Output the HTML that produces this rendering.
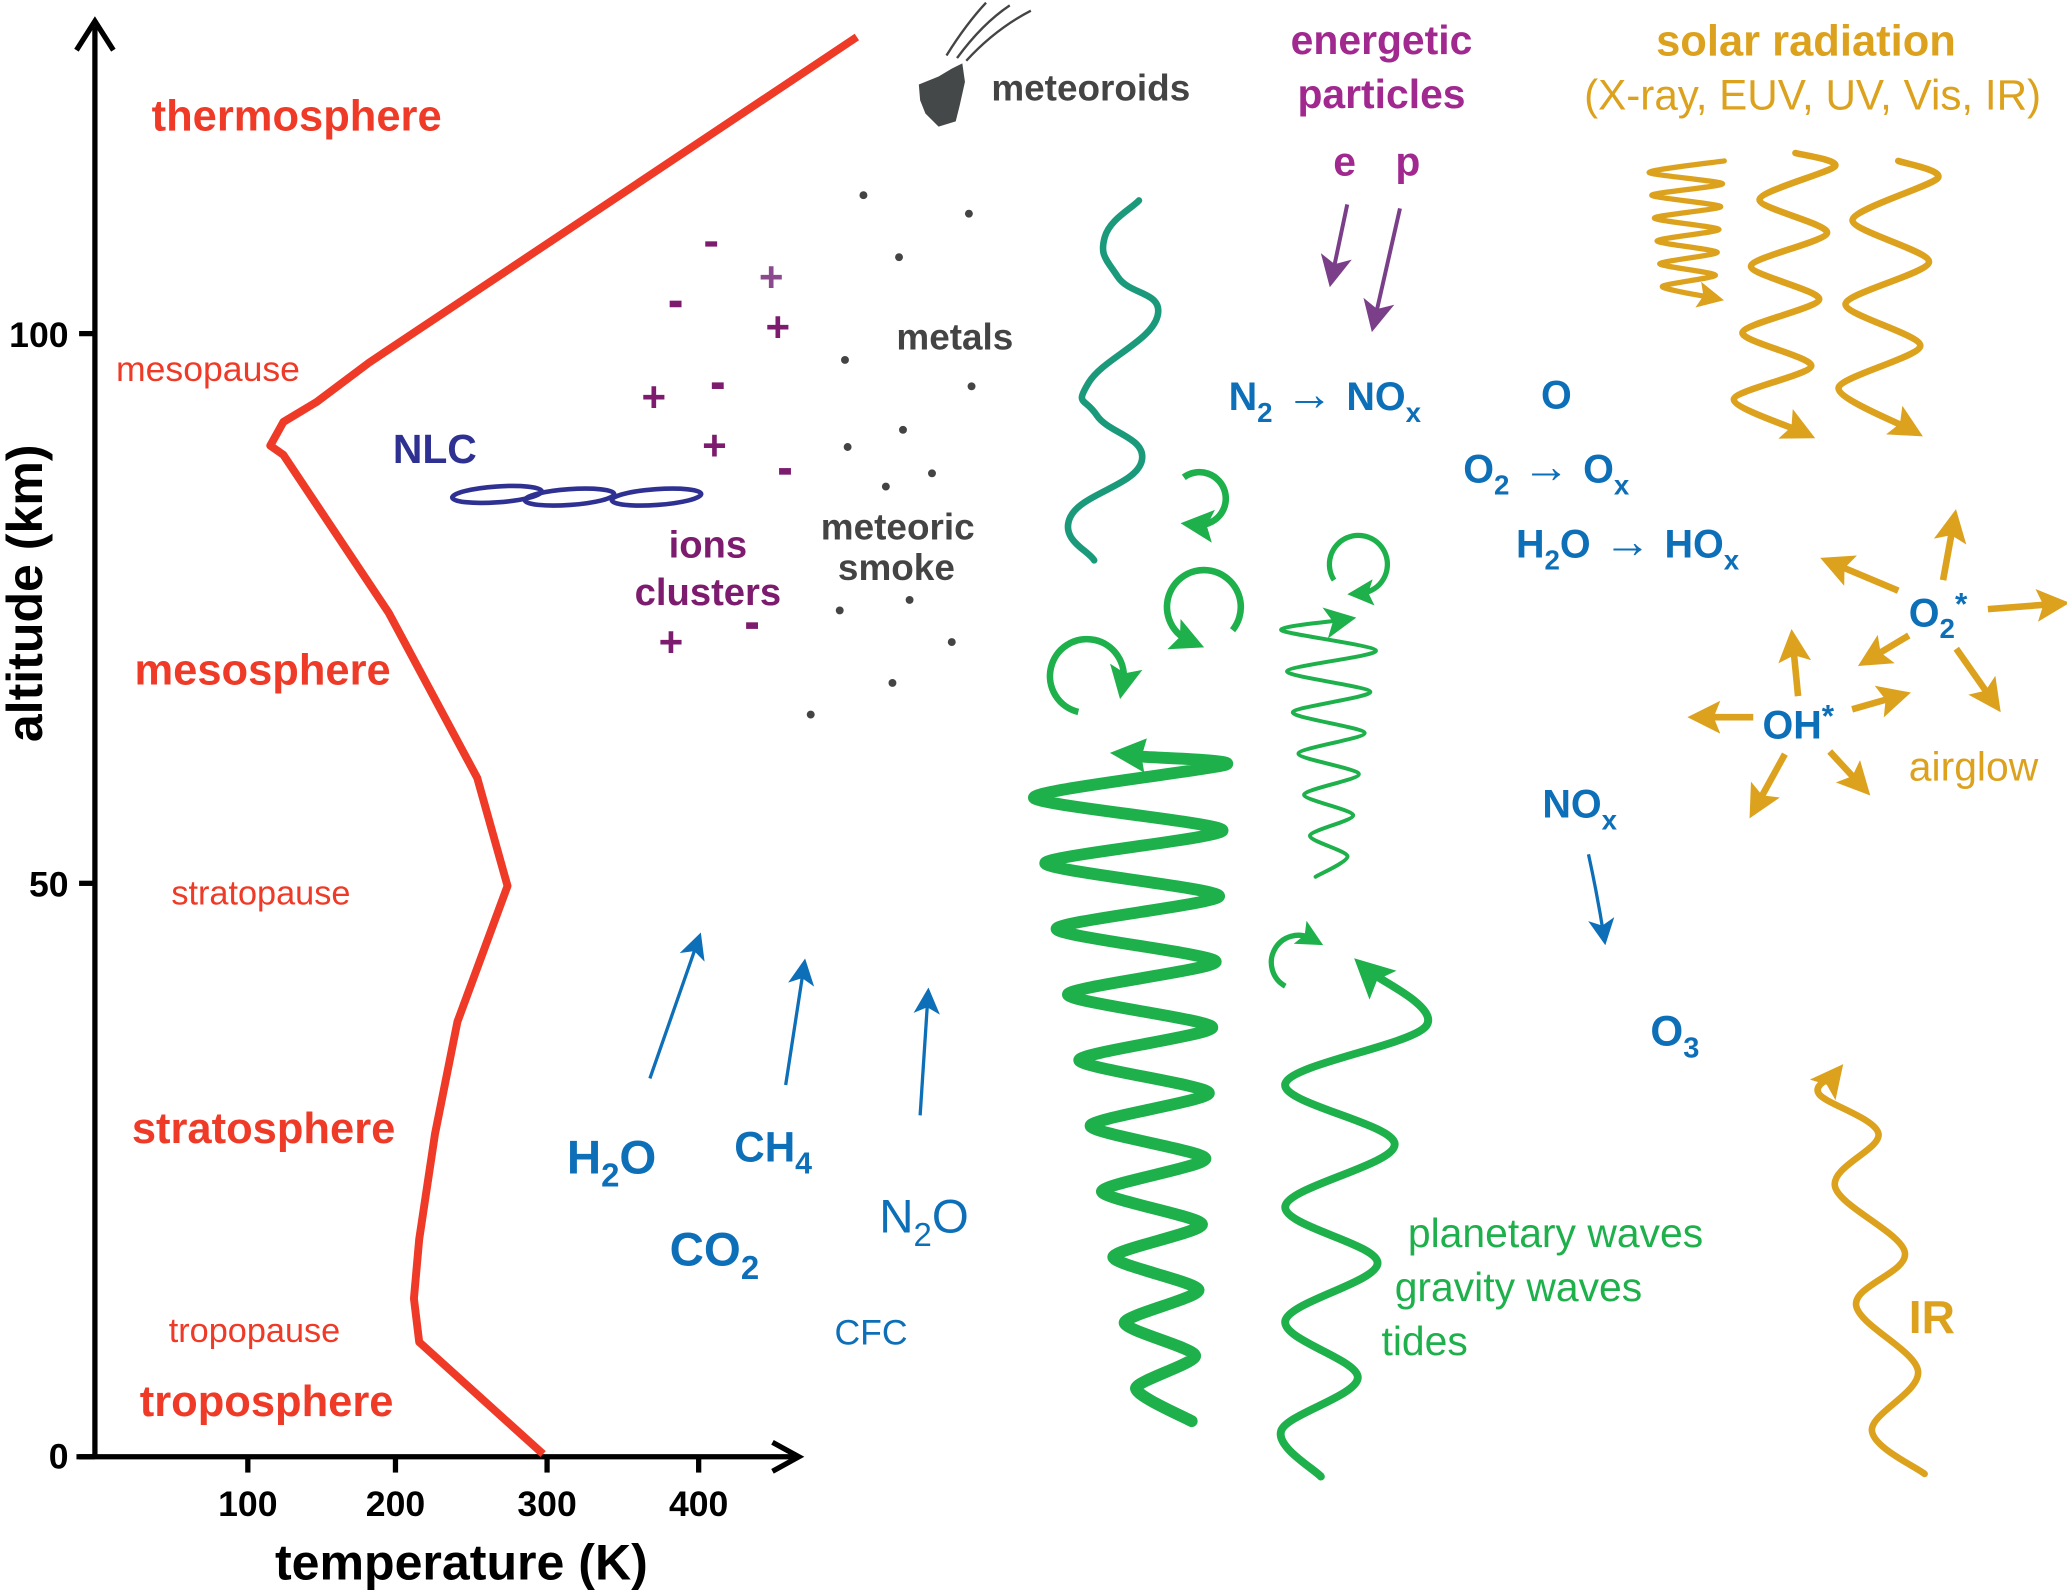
<!DOCTYPE html>
<html><head><meta charset="utf-8"><style>
html,body{margin:0;padding:0;background:#fff;}
svg{display:block;}
text{font-family:"Liberation Sans",Arial,sans-serif;}
</style></head><body>
<svg id="s" width="2067" height="1590" viewBox="0 0 1568 1206" xmlns="http://www.w3.org/2000/svg">
<defs>
<marker id="ab" markerWidth="8" markerHeight="8" refX="6" refY="4" orient="auto" markerUnits="strokeWidth"><path d="M0,0 L8,4 L0,8 L2,4Z" fill="#0d6fb8"/></marker>
<marker id="ap" markerWidth="8" markerHeight="8" refX="6" refY="4" orient="auto" markerUnits="strokeWidth"><path d="M0,0 L8,4 L0,8 L2,4Z" fill="#7b3f8a"/></marker>
<marker id="ao" markerWidth="5" markerHeight="5" refX="3" refY="2.5" orient="auto" markerUnits="strokeWidth"><path d="M0,0 L5,2.5 L0,5 L1,2.5Z" fill="#dca21e"/></marker>
<marker id="ag" markerWidth="5" markerHeight="5" refX="3" refY="2.5" orient="auto" markerUnits="strokeWidth"><path d="M0,0 L5,2.5 L0,5 L1,2.5Z" fill="#1db04b"/></marker>
<marker id="ag2" markerWidth="5" markerHeight="5" refX="2.5" refY="2.5" orient="auto" markerUnits="strokeWidth"><path d="M0,0 L5,2.5 L0,5 L1,2.5Z" fill="#1db04b"/></marker>
<marker id="agt" markerWidth="8" markerHeight="8" refX="5" refY="4" orient="auto" markerUnits="strokeWidth"><path d="M0,0 L8,4 L0,8 L2,4Z" fill="#1db04b"/></marker>
</defs>

<!-- axes -->
<g stroke="#000" stroke-width="4" fill="none">
<line x1="72" y1="1105" x2="72" y2="20"/>
<path d="M58,38 L72,16 L86,38"/>
<line x1="58" y1="1105" x2="602" y2="1105"/>
<path d="M586,1094 L606,1105 L586,1116"/>
<line x1="60" y1="253" x2="72" y2="253"/>
<line x1="60" y1="670" x2="72" y2="670"/>
<line x1="60" y1="1105" x2="72" y2="1105"/>
<line x1="188" y1="1105" x2="188" y2="1117"/>
<line x1="300" y1="1105" x2="300" y2="1117"/>
<line x1="415" y1="1105" x2="415" y2="1117"/>
<line x1="530" y1="1105" x2="530" y2="1117"/>
</g>
<g font-weight="bold" font-size="27" fill="#000">
<text x="52" y="263" text-anchor="end">100</text>
<text x="52" y="680" text-anchor="end">50</text>
<text x="52" y="1114" text-anchor="end">0</text>
<text x="188" y="1150" text-anchor="middle">100</text>
<text x="300" y="1150" text-anchor="middle">200</text>
<text x="415" y="1150" text-anchor="middle">300</text>
<text x="530" y="1150" text-anchor="middle">400</text>
<text x="350" y="1198" text-anchor="middle" font-size="38">temperature (K)</text>
<text transform="translate(32,450) rotate(-90)" text-anchor="middle" font-size="38">altitude (km)</text>
</g>

<!-- temperature curve -->
<polyline fill="none" stroke="#ee3a26" stroke-width="6" stroke-linejoin="round" points="412,1103 318,1018 314,985 318,940 330,860 347,775 385,672 362,590 295,465 215,345 205,338 215,320 240,305 280,275 650,28"/>

<g fill="#ee3a26" font-weight="bold" font-size="33">
<text x="115" y="99">thermosphere</text>
<text x="102" y="519">mesosphere</text>
<text x="100" y="867">stratosphere</text>
<text x="106" y="1074">troposphere</text>
</g>
<g fill="#ee3a26">
<text x="88" y="289" font-size="27">mesopause</text>
<text x="130" y="686" font-size="26">stratopause</text>
<text x="128" y="1018" font-size="26">tropopause</text>
</g>

<!-- NLC -->
<text x="298" y="351" font-weight="bold" font-size="31" fill="#2e3192">NLC</text>
<g fill="none" stroke="#2e3192" stroke-width="3.5">
<ellipse cx="377" cy="375" rx="34" ry="6" transform="rotate(-4 377 375)"/>
<ellipse cx="432" cy="377" rx="34" ry="6" transform="rotate(-4 432 377)"/>
<ellipse cx="498" cy="377" rx="34" ry="6" transform="rotate(-4 498 377)"/>
</g>

<!-- ions -->
<g fill="#7d1b6e" font-weight="bold">
<text x="537" y="423" text-anchor="middle" font-size="29">ions</text>
<text x="537" y="459" text-anchor="middle" font-size="29">clusters</text>
<g font-size="32">
<text x="585" y="221" text-anchor="middle" fill="#8c4a8e">+</text>
<text x="590" y="259" text-anchor="middle">+</text>
<text x="496" y="312" text-anchor="middle">+</text>
<text x="542" y="349" text-anchor="middle">+</text>
<text x="509" y="498" text-anchor="middle">+</text>
</g>
<g>
<rect x="535" y="183" width="9" height="4"/>
<rect x="508" y="228" width="9" height="5"/>
<rect x="540" y="290" width="9" height="5"/>
<rect x="591" y="355" width="9" height="5"/>
<rect x="566" y="472" width="9" height="5"/>
</g>
</g>

<!-- metals & smoke -->
<g fill="#444">
<text x="680" y="265" font-weight="bold" font-size="28">metals</text>
<text x="681" y="409" text-anchor="middle" font-weight="bold" font-size="28">meteoric</text>
<text x="680" y="440" text-anchor="middle" font-weight="bold" font-size="28">smoke</text>
<circle cx="655" cy="148" r="3"/><circle cx="735" cy="162" r="3"/><circle cx="682" cy="195" r="3"/>
<circle cx="641" cy="273" r="3"/><circle cx="737" cy="293" r="3"/><circle cx="685" cy="326" r="3"/>
<circle cx="643" cy="339" r="3"/><circle cx="707" cy="359" r="3"/><circle cx="672" cy="369" r="3"/>
<circle cx="637" cy="463" r="3"/><circle cx="690" cy="455" r="3"/><circle cx="722" cy="487" r="3"/>
<circle cx="677" cy="518" r="3"/><circle cx="615" cy="542" r="3"/>
<path d="M697,64 L712,58 L722,52 L730,48 L732,62 L728,80 L725,92 L712,96 L702,86 L698,76Z" fill="#454849"/>
<g stroke="#444" stroke-width="1.8" fill="none">
<path d="M718,42 Q733,18 748,2"/><path d="M726,44 Q745,18 766,4"/><path d="M733,46 Q755,22 782,8"/>
</g>
<text x="752" y="76" font-weight="bold" font-size="28">meteoroids</text>
</g>

<!-- energetic particles -->
<g fill="#a0288f" font-weight="bold" font-size="31">
<text x="1048" y="41" text-anchor="middle">energetic</text>
<text x="1048" y="82" text-anchor="middle">particles</text>
<text x="1020" y="133" text-anchor="middle">e</text>
<text x="1068" y="133" text-anchor="middle">p</text>
</g>
<g stroke="#7b3f8a" stroke-width="3" fill="none">
<line x1="1022" y1="155" x2="1010" y2="212" marker-end="url(#ap)"/>
<line x1="1062" y1="158" x2="1042" y2="246" marker-end="url(#ap)"/>
</g>

<!-- solar -->
<g fill="#dca21e">
<text x="1370" y="42" text-anchor="middle" font-weight="bold" font-size="33">solar radiation</text>
<text x="1375" y="83" text-anchor="middle" font-size="32">(X-ray, EUV, UV, Vis, IR)</text>
<text x="1448" y="592" font-size="31">airglow</text>
<text x="1448" y="1011" font-weight="bold" font-size="35">IR</text>
</g>

<!-- blue chemistry -->
<g fill="#0d6fb8" font-weight="bold" font-size="30">
<text x="932" y="311">N<tspan font-size="21" dy="9">2</tspan><tspan dy="-9" font-weight="normal" font-size="36"> → </tspan>NO<tspan font-size="21" dy="9">x</tspan></text>
<text x="1169" y="310">O</text>
<text x="1110" y="366">O<tspan font-size="21" dy="9">2</tspan><tspan dy="-9" font-weight="normal" font-size="36"> → </tspan>O<tspan font-size="21" dy="9">x</tspan></text>
<text x="1150" y="423">H<tspan font-size="21" dy="9">2</tspan><tspan dy="-9">O</tspan><tspan font-weight="normal" font-size="36"> → </tspan>HO<tspan font-size="21" dy="9">x</tspan></text>
<text x="1448" y="475">O<tspan font-size="21" dy="9">2</tspan><tspan dy="-18" font-size="24">*</tspan></text>
<text x="1337" y="560">OH<tspan font-size="24" dy="-9">*</tspan></text>
<text x="1170" y="620">NO<tspan font-size="21" dy="9">x</tspan></text>
<text x="1252" y="793" font-size="32">O<tspan font-size="22" dy="9">3</tspan></text>
<text x="430" y="890" font-size="36">H<tspan font-size="25" dy="10">2</tspan><tspan dy="-10">O</tspan></text>
<text x="557" y="881" font-size="32">CH<tspan font-size="23" dy="9">4</tspan></text>
<text x="508" y="960" font-size="36">CO<tspan font-size="25" dy="10">2</tspan></text>
<text x="667" y="935" font-size="36" font-weight="normal">N<tspan font-size="25" dy="10">2</tspan><tspan dy="-10">O</tspan></text>
<text x="633" y="1020" font-size="27" font-weight="normal">CFC</text>
</g>
<g stroke="#0d6fb8" stroke-width="2.5" fill="none">
<line x1="493" y1="818" x2="530" y2="712" marker-end="url(#ab)"/>
<line x1="596" y1="823" x2="610" y2="732" marker-end="url(#ab)"/>
<line x1="698" y1="846" x2="704" y2="754" marker-end="url(#ab)"/>
<path d="M1205,648 Q1212,680 1217,712" marker-end="url(#ab)"/>
</g>

<!-- airglow arrows -->
<g stroke="#dca21e" stroke-width="5" fill="none">
<line x1="1474" y1="440" x2="1482" y2="396" marker-end="url(#ao)"/>
<line x1="1440" y1="448" x2="1390" y2="427" marker-end="url(#ao)"/>
<line x1="1508" y1="462" x2="1560" y2="458" marker-end="url(#ao)"/>
<line x1="1448" y1="482" x2="1418" y2="500" marker-end="url(#ao)"/>
<line x1="1484" y1="492" x2="1512" y2="532" marker-end="url(#ao)"/>
<line x1="1364" y1="528" x2="1360" y2="487" marker-end="url(#ao)"/>
<line x1="1330" y1="544" x2="1290" y2="544" marker-end="url(#ao)"/>
<line x1="1405" y1="538" x2="1440" y2="528" marker-end="url(#ao)"/>
<line x1="1354" y1="572" x2="1332" y2="612" marker-end="url(#ao)"/>
<line x1="1388" y1="570" x2="1412" y2="596" marker-end="url(#ao)"/>
</g>

<!-- green labels -->
<g fill="#1db04b" font-size="31">
<text x="1068" y="946">planetary waves</text>
<text x="1058" y="987">gravity waves</text>
<text x="1048" y="1028">tides</text>
</g>

<!-- circular arrows -->
<g stroke="#1db04b" stroke-width="5" fill="none">
<path d="M898,362 A20,20 0 1 1 908,398" marker-end="url(#ag2)"/>
<path d="M935,478 A28,28 0 1 0 902,486" marker-end="url(#ag2)"/>
<path d="M818,540 A28,28 0 1 1 852,518" marker-end="url(#ag2)"/>
<path d="M1012,440 A22,22 0 1 1 1032,450" marker-end="url(#ag2)" stroke-width="4"/>
<path d="M975,748 A20,20 0 1 1 995,712" marker-end="url(#ag2)" stroke-width="4"/>
</g>

<!-- big wave arrowhead -->
<path d="M842,571 L870,560 L866,574 L868,586Z" fill="#1db04b"/>

<g id="waves"></g>
</svg>
<script>
function cr(pts,tension){
  tension=tension||0.5;
  let d='M'+pts[0][0].toFixed(1)+','+pts[0][1].toFixed(1);
  for(let i=0;i<pts.length-1;i++){
    const p0=pts[Math.max(0,i-1)],p1=pts[i],p2=pts[i+1],p3=pts[Math.min(pts.length-1,i+2)];
    const k=tension/3;
    const c1=[p1[0]+(p2[0]-p0[0])*k,p1[1]+(p2[1]-p0[1])*k];
    const c2=[p2[0]-(p3[0]-p1[0])*k,p2[1]-(p3[1]-p1[1])*k];
    d+=' C'+c1[0].toFixed(1)+','+c1[1].toFixed(1)+' '+c2[0].toFixed(1)+','+c2[1].toFixed(1)+' '+p2[0].toFixed(1)+','+p2[1].toFixed(1);
  }
  return d;
}
function alt(y0,y1,n,lx0,lx1,rx0,rx1,startRight){
  const pts=[];
  for(let i=0;i<=n;i++){
    const t=i/n,y=y0+(y1-y0)*t;
    const right=(i%2===0)===startRight;
    pts.push([right?rx0+(rx1-rx0)*t:lx0+(lx1-lx0)*t,y]);
  }
  return pts;
}
const g=document.getElementById('waves');
function add(d,stroke,w,markerEnd){
  const p=document.createElementNS('http://www.w3.org/2000/svg','path');
  p.setAttribute('d',d);p.setAttribute('fill','none');p.setAttribute('stroke',stroke);
  p.setAttribute('stroke-width',w);p.setAttribute('stroke-linejoin','round');p.setAttribute('stroke-linecap','round');
  if(markerEnd)p.setAttribute('marker-end',markerEnd);
  g.appendChild(p);
}
// teal wave
add(cr([[864,152],[838,180],[848,210],[878,240],[826,290],[832,315],[866,350],[812,392],[830,425]],0.7),'#1a9a7a',5);
// big green wave (drawn top to bottom, arrowhead separate)
let bp=alt(580,1078,20,780,866,930,904,true);
bp.unshift([868,574]);
add(cr(bp,0.35),'#1db04b',9);
// thin green wave
let tp=alt(478,665,12,972,998,1046,1020,false);
tp.unshift([1020,470]);
add(cr(tp.slice().reverse(),0.4),'#1db04b',3,'url(#agt)');
// tides wave
let sp=[[1036,735],[1082,778],[975,822],[1058,868],[975,915],[1045,958],[975,1002],[1030,1045],[972,1085],[1002,1120]];
add(cr(sp.slice().reverse(),0.5),'#1db04b',6,'url(#ag)');
// solar waves
add(cr(alt(122,226,12,1250,1262,1308,1300,true),0.35),'#dca21e',4,'url(#ao)');
let s2=alt(126,328,8,1338,1312,1392,1368,true);s2.unshift([1362,116]);
add(cr(s2,0.4),'#dca21e',5,'url(#ao)');
let s3=alt(135,326,6,1408,1392,1470,1450,true);s3.unshift([1440,122]);
add(cr(s3,0.4),'#dca21e',5,'url(#ao)');
// IR wave
let ir=[[1460,1118],[1420,1085],[1455,1040],[1408,990],[1445,950],[1392,900],[1425,860],[1380,830],[1392,815]];
add(cr(ir,0.5),'#dca21e',5,'url(#ao)');
</script>
</body></html>
